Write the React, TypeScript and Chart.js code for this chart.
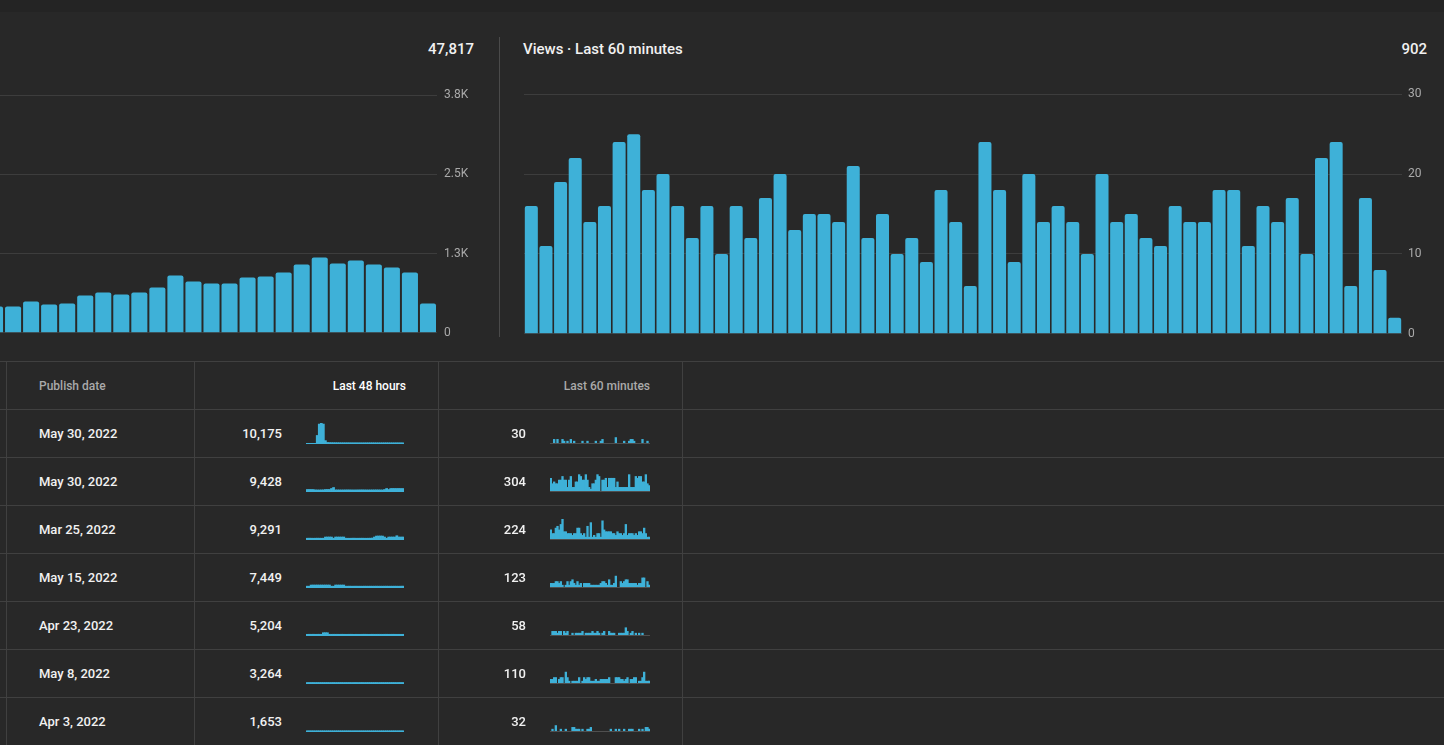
import React, { useEffect, useRef } from 'react';
import { Chart, registerables } from 'chart.js';

Chart.register(...registerables);

const BLUE = '#3eb1d8';
const GRID = '#3d3d3d';
const LINE = '#404040';
const FONT = 'Roboto, "Noto Sans", Arial, sans-serif';

// Hourly views, visible end of the 48-hour panel (oldest first)
const hourLabels = ['24h', '23h', '22h', '21h', '20h', '19h', '18h', '17h', '16h', '15h', '14h', '13h', '12h', '11h', '10h', '9h', '8h', '7h', '6h', '5h', '4h', '3h', '2h', '1h', 'now'];
const hourlyViews = [415, 415, 494, 446, 462, 588, 636, 604, 636, 714, 904, 809, 778, 778, 872, 888, 951, 1077, 1187, 1093, 1140, 1077, 1030, 951, 462];
const hourTickValues = [0, 1250, 2500, 3750];
const hourTickLabels = ['0', '1.3K', '2.5K', '3.8K'];
const hourlyTotal = '47,817';

// Views per minute, last 60 minutes
const minuteLabels = Array.from({ length: 60 }, (_, i) => `${60 - i} min`);
const minuteViews = [
  16, 11, 19, 22, 14, 16, 24, 25, 18, 20,
  16, 12, 16, 10, 16, 12, 17, 20, 13, 15,
  15, 14, 21, 12, 15, 10, 12, 9, 18, 14,
  6, 24, 18, 9, 20, 14, 16, 14, 10, 20,
  14, 15, 12, 11, 16, 14, 14, 18, 18, 11,
  16, 14, 17, 10, 22, 24, 6, 17, 8, 2,
];
const minuteTickValues = [0, 10, 20, 30];
const minuteTickLabels = ['0', '10', '20', '30'];
const minuteTitle = 'Views · Last 60 minutes';
const minuteTotal = '902';

// Table columns
const tableHeaders = ['Publish date', 'Last 48 hours', 'Last 60 minutes'];
const publishDates = ['May 30, 2022', 'May 30, 2022', 'Mar 25, 2022', 'May 15, 2022', 'Apr 23, 2022', 'May 8, 2022', 'Apr 3, 2022'];
const views48h = [10175, 9428, 9291, 7449, 5204, 3264, 1653];
const views60m = [30, 304, 224, 123, 58, 110, 32];

// Per-hour sparkline values (48 hours per row)
const hoursRow1 = [0, 0, 0, 0, 0, 990, 2480, 2620, 2480, 310, 72, 58, 51, 47, 44, 40, 38, 36, 35, 33, 34, 32, 31, 30, 31, 29, 30, 28, 29, 30, 31, 32, 33, 31, 30, 29, 28, 30, 31, 32, 30, 29, 28, 30, 31, 30, 29, 23];
const hoursRow2 = [198, 204, 201, 197, 150, 142, 138, 146, 151, 196, 203, 201, 330, 460, 148, 144, 140, 139, 143, 147, 150, 146, 141, 138, 142, 145, 149, 152, 147, 143, 140, 144, 146, 148, 151, 149, 145, 134, 200, 330, 200, 328, 335, 331, 329, 333, 327, 327];
const hoursRow3 = [102, 108, 105, 99, 104, 110, 106, 101, 103, 258, 262, 265, 255, 107, 262, 258, 260, 257, 263, 104, 100, 98, 106, 109, 103, 101, 105, 107, 102, 99, 104, 108, 125, 260, 385, 392, 396, 387, 260, 105, 255, 262, 264, 259, 430, 262, 257, 261];
const hoursRow4 = [110, 105, 255, 262, 258, 264, 259, 261, 257, 263, 260, 261, 108, 104, 262, 258, 260, 259, 261, 106, 109, 112, 104, 107, 110, 105, 108, 103, 111, 107, 106, 109, 104, 108, 110, 106, 107, 105, 109, 111, 104, 108, 106, 110, 107, 105, 109, 116];
const hoursRow5 = [92, 98, 95, 101, 94, 97, 99, 93, 298, 305, 297, 96, 94, 98, 95, 97, 93, 99, 96, 94, 95, 97, 98, 92, 96, 95, 94, 97, 99, 96, 93, 95, 98, 94, 96, 97, 95, 93, 96, 98, 94, 95, 97, 96, 94, 95, 93, 95];
const hoursRow6 = [66, 70, 68, 71, 65, 69, 67, 68, 69, 67, 70, 66, 68, 72, 65, 67, 68, 71, 66, 69, 67, 70, 64, 69, 70, 65, 68, 72, 66, 67, 69, 67, 67, 69, 71, 64, 68, 70, 66, 69, 66, 68, 70, 69, 65, 71, 67, 68];
const hoursRow7 = [33, 36, 34, 35, 32, 37, 34, 35, 34, 33, 36, 35, 34, 32, 36, 35, 35, 34, 33, 37, 34, 36, 32, 35, 36, 33, 35, 34, 35, 33, 37, 32, 34, 35, 36, 33, 34, 35, 32, 37, 33, 34, 35, 36, 32, 35, 34, 36];
const hourlySparklines = [hoursRow1, hoursRow2, hoursRow3, hoursRow4, hoursRow5, hoursRow6, hoursRow7];

// Per-minute sparkline values (60 minutes per row)
const minutesRow1 = [0, 0, 2, 0, 2, 0, 0, 2, 1, 0, 1, 0, 2, 0, 1, 0, 0, 0, 0, 1, 0, 0, 1, 0, 0, 0, 0, 1, 0, 0, 1, 2, 0, 0, 0, 0, 0, 0, 0, 3, 0, 0, 0, 0, 1, 0, 0, 1, 2, 2, 1, 0, 0, 0, 0, 2, 0, 0, 1, 0];
const minutesRow2 = [7, 4, 5, 4, 4, 6, 6, 8, 6, 6, 2, 6, 8, 2, 2, 5, 5, 9, 8, 6, 6, 9, 6, 2, 1, 4, 4, 6, 9, 8, 0, 6, 6, 7, 2, 7, 7, 7, 7, 2, 5, 2, 2, 2, 2, 2, 2, 9, 2, 2, 2, 8, 7, 8, 8, 5, 5, 9, 4, 3];
const minutesRow3 = [5, 3, 3, 6, 7, 5, 8, 11, 4, 4, 3, 3, 3, 2, 3, 3, 6, 6, 3, 2, 3, 1, 7, 1, 9, 1, 2, 1, 3, 3, 1, 10, 5, 4, 4, 4, 4, 3, 3, 2, 4, 3, 3, 2, 3, 8, 2, 3, 3, 3, 2, 3, 2, 4, 4, 3, 6, 3, 1, 1];
const minutesRow4 = [2, 2, 2, 3, 3, 2, 3, 1, 0, 1, 3, 1, 3, 4, 2, 1, 3, 1, 2, 0, 2, 2, 2, 2, 1, 1, 1, 1, 1, 1, 2, 3, 3, 2, 1, 4, 1, 1, 2, 6, 0, 0, 3, 2, 3, 4, 4, 2, 2, 2, 2, 2, 1, 2, 2, 5, 5, 0, 3, 1];
const minutesRow5 = [0, 2, 2, 2, 1, 2, 2, 0, 2, 1, 2, 0, 0, 1, 0, 1, 1, 1, 1, 2, 0, 1, 1, 1, 1, 2, 1, 1, 2, 1, 0, 1, 2, 0, 0, 2, 1, 1, 1, 0, 0, 1, 1, 1, 1, 4, 2, 0, 1, 2, 0, 1, 0, 1, 0, 1, 0, 0, 0, 0];
const minutesRow6 = [2, 2, 3, 3, 0, 2, 3, 3, 0, 6, 3, 1, 0, 1, 1, 1, 1, 3, 0, 1, 3, 2, 3, 3, 1, 1, 1, 2, 1, 1, 2, 2, 2, 2, 2, 3, 0, 0, 0, 3, 3, 3, 2, 2, 1, 2, 3, 0, 2, 2, 3, 3, 0, 1, 1, 3, 6, 1, 1, 1];
const minutesRow7 = [0, 1, 0, 3, 0, 0, 1, 0, 0, 1, 0, 0, 0, 2, 2, 1, 1, 1, 0, 1, 0, 0, 1, 1, 2, 0, 0, 0, 0, 0, 0, 0, 0, 0, 0, 0, 1, 0, 0, 1, 0, 1, 0, 0, 1, 0, 0, 1, 1, 1, 0, 0, 0, 1, 0, 1, 0, 2, 2, 1];
const minuteSparklines = [minutesRow1, minutesRow2, minutesRow3, minutesRow4, minutesRow5, minutesRow6, minutesRow7];

type BarPanelProps = {
  labels: string[];
  values: number[];
  tickValues: number[];
  tickLabels: string[];
  left: number;
  top: number;
  width: number;
  height: number;
  tickPadding: number;
};

function BarPanel(p: BarPanelProps) {
  const ref = useRef<HTMLCanvasElement>(null);
  useEffect(() => {
    const chart = new Chart(ref.current as HTMLCanvasElement, {
      type: 'bar',
      data: {
        labels: p.labels,
        datasets: [
          {
            data: p.values,
            backgroundColor: BLUE,
            borderRadius: 2,
            barPercentage: 0.89,
            categoryPercentage: 1,
          },
        ],
      },
      options: {
        animation: false,
        responsive: false,
        events: [],
        layout: { padding: { top: 10, bottom: 10, left: 0, right: 0 } },
        plugins: { legend: { display: false }, tooltip: { enabled: false } },
        scales: {
          x: { display: false },
          y: {
            position: 'right',
            min: 0,
            max: p.tickValues[p.tickValues.length - 1],
            ticks: {
              stepSize: p.tickValues[1] - p.tickValues[0],
              padding: p.tickPadding,
              color: '#aaaaaa',
              font: { family: FONT, size: 12 },
              callback: (v: any) => {
                const i = p.tickValues.indexOf(Number(v));
                return i >= 0 ? p.tickLabels[i] : '';
              },
            },
            grid: { color: GRID, drawTicks: false, lineWidth: 1 },
            border: { display: false },
            afterFit: (s: any) => {
              s.width = 40;
            },
          },
        },
      } as any,
    });
    return () => chart.destroy();
  }, []);
  return (
    <canvas
      ref={ref}
      width={p.width}
      height={p.height}
      style={{ position: 'absolute', left: p.left, top: p.top, width: p.width, height: p.height }}
    />
  );
}

type SparkProps = {
  values: number[];
  yMax: number;
  left: number;
  top: number;
  width: number;
  baseColor: string;
};

function Sparkline(p: SparkProps) {
  const ref = useRef<HTMLCanvasElement>(null);
  const height = 22;
  useEffect(() => {
    const chart = new Chart(ref.current as HTMLCanvasElement, {
      type: 'bar',
      data: {
        labels: p.values.map((_, i) => String(i)),
        datasets: [
          {
            data: p.values.map((v) => (v > 0 ? v : null)),
            backgroundColor: BLUE,
            barPercentage: 1,
            categoryPercentage: 1,
            borderWidth: 0,
          },
        ],
      },
      options: {
        animation: false,
        responsive: false,
        events: [],
        layout: { padding: { top: 0, bottom: 2, left: 0, right: 0 } },
        plugins: { legend: { display: false }, tooltip: { enabled: false } },
        scales: {
          x: {
            display: true,
            grid: { display: false, drawTicks: false },
            ticks: { display: false },
            border: { display: true, color: p.baseColor, width: 1 },
          },
          y: { display: false, min: 0, max: p.yMax },
        },
      } as any,
    });
    return () => chart.destroy();
  }, []);
  return (
    <canvas
      ref={ref}
      width={p.width}
      height={height}
      style={{ position: 'absolute', left: p.left, top: p.top, width: p.width, height }}
    />
  );
}

type LabelProps = {
  x: number;
  y: number;
  align?: 'left' | 'right';
  size?: number;
  color?: string;
  children: React.ReactNode;
};

function Label({ x, y, align = 'left', size = 13, color = '#f1f1f1', children }: LabelProps) {
  const w = 400;
  return (
    <div
      style={{
        position: 'absolute',
        left: align === 'right' ? x - w : x,
        top: y - 10,
        width: w,
        height: 20,
        lineHeight: '20px',
        fontSize: size,
        fontWeight: 500,
        color,
        textAlign: align,
        whiteSpace: 'nowrap',
        fontFamily: FONT,
      }}
    >
      {children}
    </div>
  );
}

function HLine({ y }: { y: number }) {
  return <div style={{ position: 'absolute', left: 0, top: y, width: '100%', height: 1, background: LINE }} />;
}

function VLine({ x, y1, y2, color = LINE }: { x: number; y1: number; y2: number; color?: string }) {
  return <div style={{ position: 'absolute', left: x, top: y1, width: 1, height: y2 - y1, background: color }} />;
}

export default function App() {
  const hourMax = Math.max(...hourlySparklines.flat());
  const minuteMax = Math.max(...minuteSparklines.flat());
  const firstRowTop = 409;
  const rowHeight = 48;

  return (
    <div style={{ position: 'fixed', inset: 0, background: '#282828', overflow: 'hidden', fontFamily: FONT }}>
      <div style={{ position: 'absolute', left: 0, top: 0, width: '100%', height: 12, background: '#242424' }} />

      {/* Hourly panel, scrolled so only its newest hours show */}
      <Label x={474} y={49} align="right" size={15}>
        {hourlyTotal}
      </Label>
      <BarPanel
        labels={hourLabels}
        values={hourlyViews}
        tickValues={hourTickValues}
        tickLabels={hourTickLabels}
        left={-14}
        top={81}
        width={491}
        height={266}
        tickPadding={7}
      />

      <VLine x={499} y1={37} y2={337} color="#4a4a4a" />

      {/* Last 60 minutes panel */}
      <Label x={523} y={49} size={15}>
        {minuteTitle}
      </Label>
      <Label x={1427} y={49} align="right" size={15}>
        {minuteTotal}
      </Label>
      <BarPanel
        labels={minuteLabels}
        values={minuteViews}
        tickValues={minuteTickValues}
        tickLabels={minuteTickLabels}
        left={524}
        top={81}
        width={918}
        height={266}
        tickPadding={6}
      />

      {/* Table */}
      <HLine y={361} />
      <Label x={39} y={386} size={12} color="#aaaaaa">
        {tableHeaders[0]}
      </Label>
      <Label x={406} y={386} align="right" size={12} color="#ffffff">
        {tableHeaders[1]}
      </Label>
      <Label x={650} y={386} align="right" size={12} color="#aaaaaa">
        {tableHeaders[2]}
      </Label>

      {publishDates.map((date, i) => {
        const top = firstRowTop + i * rowHeight;
        const mid = top + 25;
        return (
          <React.Fragment key={i}>
            <HLine y={top} />
            <Label x={39} y={mid}>
              {date}
            </Label>
            <Label x={282} y={mid} align="right">
              {views48h[i].toLocaleString('en-US')}
            </Label>
            <Sparkline values={hourlySparklines[i]} yMax={hourMax} left={306} top={top + 14} width={98} baseColor={BLUE} />
            <Label x={526} y={mid} align="right">
              {views60m[i].toLocaleString('en-US')}
            </Label>
            <Sparkline values={minuteSparklines[i]} yMax={minuteMax} left={550} top={top + 14} width={100} baseColor="#4f4f4f" />
          </React.Fragment>
        );
      })}

      <VLine x={6} y1={361} y2={745} />
      <VLine x={194} y1={361} y2={745} />
      <VLine x={438} y1={361} y2={745} />
      <VLine x={682} y1={361} y2={745} />
    </div>
  );
}
